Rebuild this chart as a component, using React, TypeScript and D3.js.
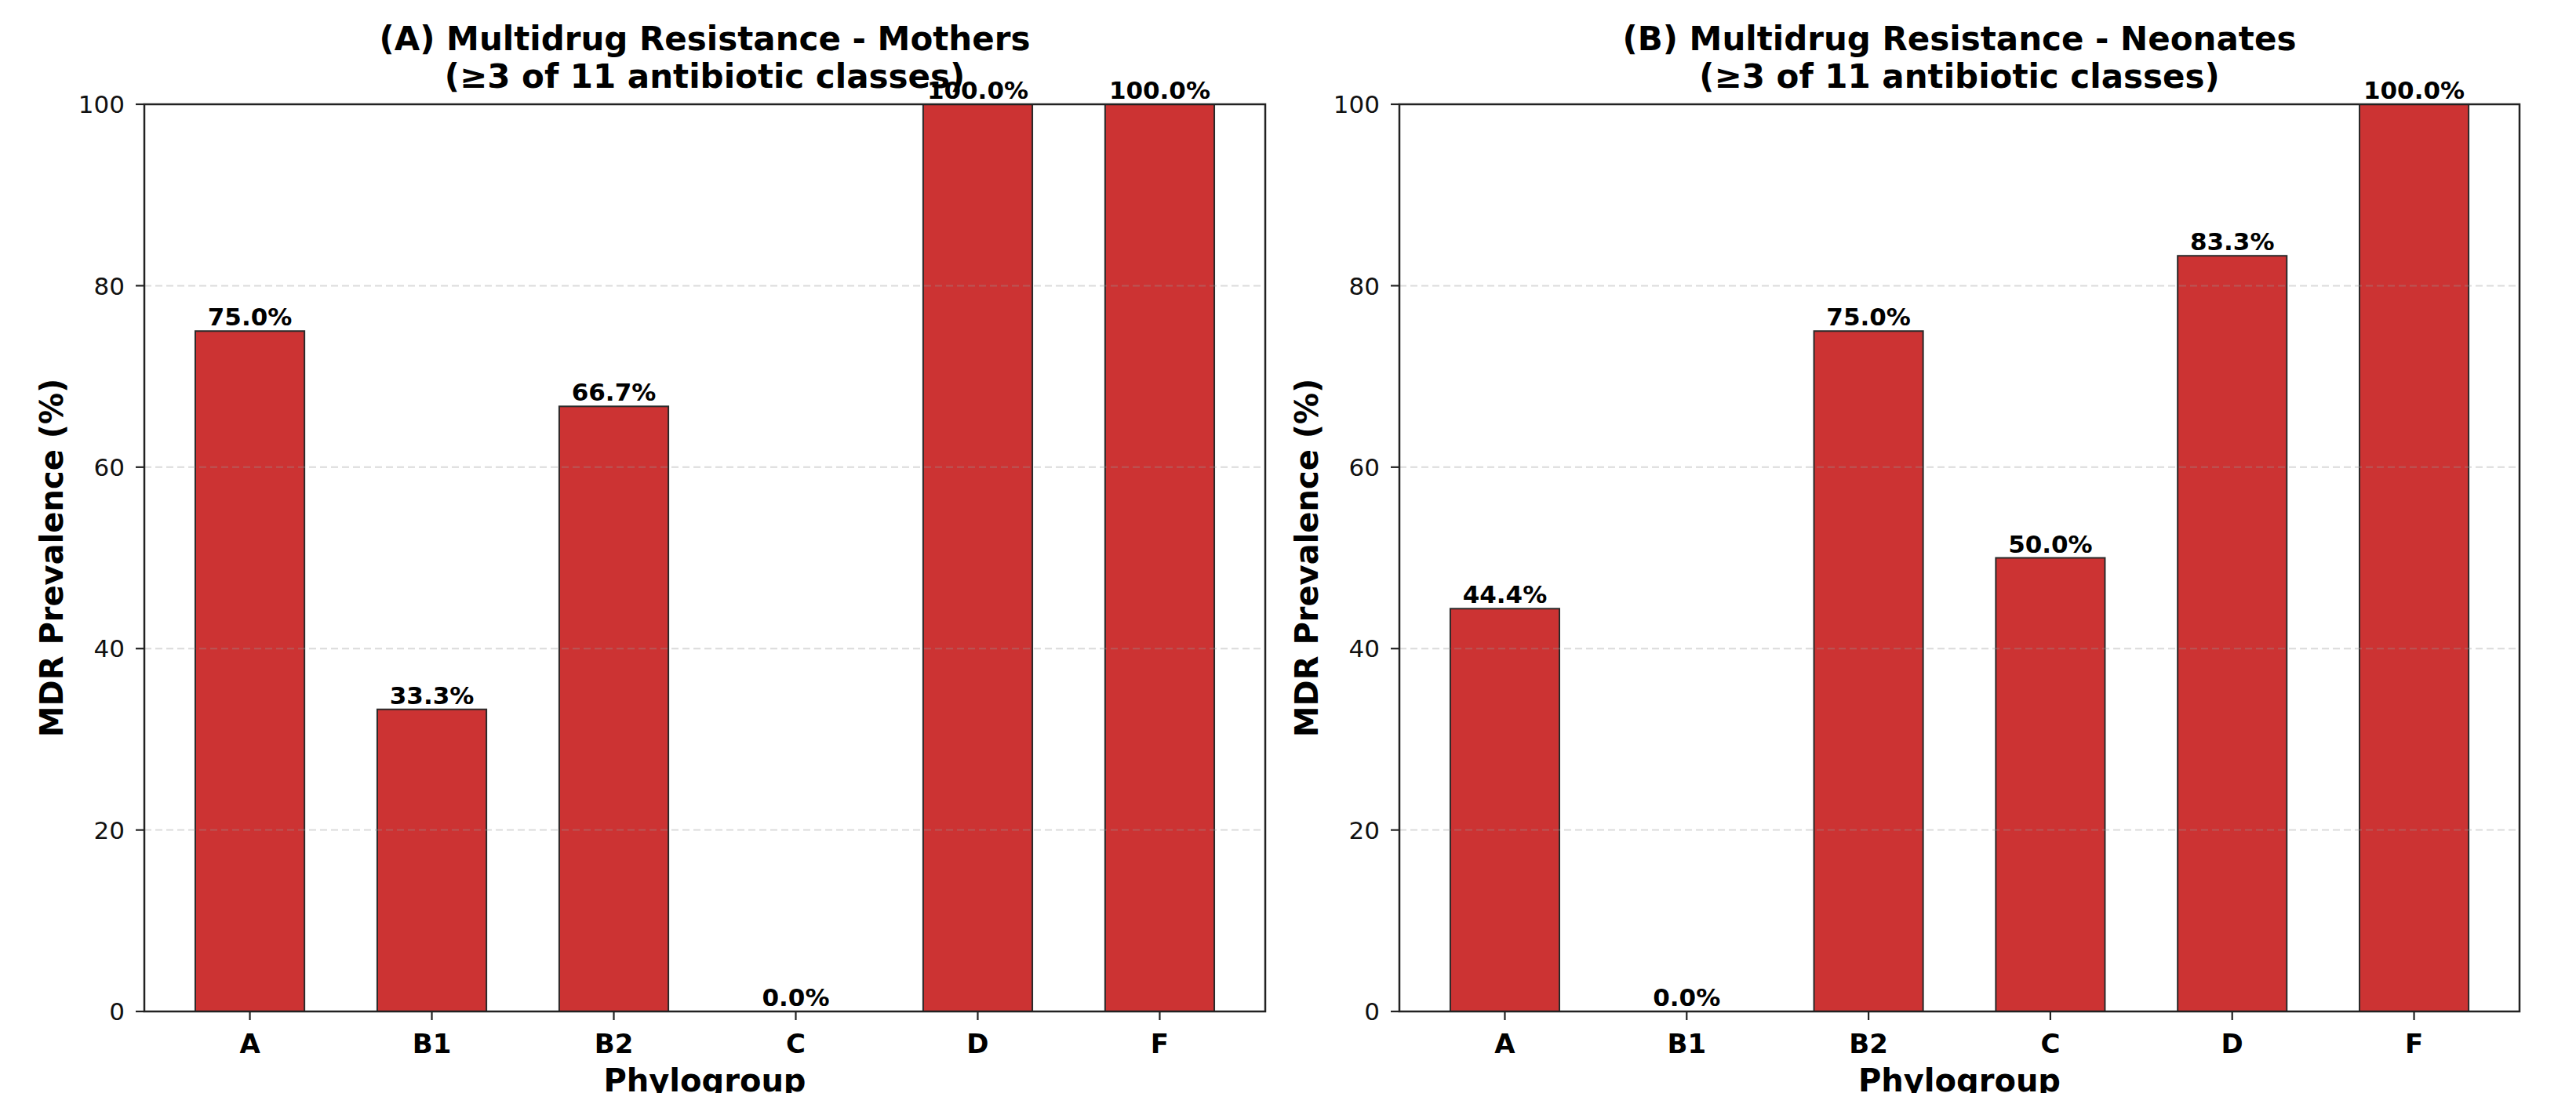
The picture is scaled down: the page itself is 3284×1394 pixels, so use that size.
import * as d3 from "d3";

// phylogroups and MDR prevalence (%)
const groups = ["A", "B1", "B2", "C", "D", "F"];
const mothersMdr = [75.0, 33.3, 66.7, 0.0, 100.0, 100.0];
const neonatesMdr = [44.4, 0.0, 75.0, 50.0, 83.3, 100.0];
const yTicks = [0, 20, 40, 60, 80, 100];
const titlesA = ["(A) Multidrug Resistance - Mothers", "(≥3 of 11 antibiotic classes)"];
const titlesB = ["(B) Multidrug Resistance - Neonates", "(≥3 of 11 antibiotic classes)"];

const W = 3284;
const H = 1394;
const top = 133;
const bottom = 1290;
const barColor = "#cc3333";
const font = "'DejaVu Sans', sans-serif";

interface PanelProps {
  left: number;
  right: number;
  values: number[];
  title: string[];
}

const Panel = ({ left, right, values, title }: PanelProps) => {
  // matplotlib-ish: bars width 0.6, 5% margins
  const x = d3.scaleLinear().domain([-0.58, groups.length - 1 + 0.58]).range([left, right]);
  const y = d3.scaleLinear().domain([0, 100]).range([bottom, top]);
  const bw = x(0.6) - x(0);
  const cx = (left + right) / 2;

  return (
    <g>
      {/* bars */}
      {values.map((v, i) => (
        <rect
          key={groups[i]}
          x={x(i - 0.3)}
          y={y(v)}
          width={bw}
          height={y(0) - y(v)}
          fill={barColor}
          stroke="#2a2a2a"
          strokeWidth={2}
        />
      ))}
      {/* grid, drawn over the bars like mpl default */}
      {yTicks.map(t => (
        <line
          key={"g" + t}
          x1={left}
          x2={right}
          y1={y(t)}
          y2={y(t)}
          stroke="#999"
          strokeOpacity={0.35}
          strokeWidth={2}
          strokeDasharray="9,5"
        />
      ))}
      {/* spines */}
      <rect x={left} y={top} width={right - left} height={bottom - top} fill="none" stroke="#222" strokeWidth={2.5} />
      {/* y ticks */}
      {yTicks.map(t => (
        <g key={"y" + t}>
          <line x1={left - 11} x2={left} y1={y(t)} y2={y(t)} stroke="#222" strokeWidth={2.2} />
          <text
            x={left - 25}
            y={y(t)}
            dy="0.36em"
            textAnchor="end"
            fontFamily={font}
            fontSize={31}
            fill="#111"
          >
            {t}
          </text>
        </g>
      ))}
      {/* x ticks */}
      {groups.map((g, i) => (
        <g key={"x" + g}>
          <line x1={x(i)} x2={x(i)} y1={bottom} y2={bottom + 11} stroke="#222" strokeWidth={2.2} />
          <text
            x={x(i)}
            y={bottom + 53}
            textAnchor="middle"
            fontFamily={font}
            fontWeight="bold"
            fontSize={34}
            fill="#000"
          >
            {g}
          </text>
        </g>
      ))}
      {/* value labels */}
      {values.map((v, i) => (
        <text
          key={"v" + i}
          x={x(i)}
          y={y(v) - 7}
          textAnchor="middle"
          fontFamily={font}
          fontWeight="bold"
          fontSize={31}
          fill="#000"
        >
          {v.toFixed(1) + "%"}
        </text>
      ))}
      {/* axis labels */}
      <text
        transform={`translate(${left - 104},${(top + bottom) / 2}) rotate(-90)`}
        textAnchor="middle"
        fontFamily={font}
        fontWeight="bold"
        fontSize={40}
        fill="#000"
      >
        MDR Prevalence (%)
      </text>
      <text x={cx} y={1392} textAnchor="middle" fontFamily={font} fontWeight="bold" fontSize={40} fill="#000">
        Phylogroup
      </text>
      {/* title */}
      {title.map((line, k) => (
        <text
          key={"t" + k}
          x={cx}
          y={64 + k * 48}
          textAnchor="middle"
          fontFamily={font}
          fontWeight="bold"
          fontSize={42}
          fill="#000"
        >
          {line}
        </text>
      ))}
    </g>
  );
};

export default function App() {
  return (
    <svg
      width={W}
      height={H}
      style={{ position: "absolute", left: 0, top: 0, background: "#fff" }}
    >
      <rect width={W} height={H} fill="#fff" />
      <Panel left={184} right={1613} values={mothersMdr} title={titlesA} />
      <Panel left={1784} right={3212} values={neonatesMdr} title={titlesB} />
    </svg>
  );
}
